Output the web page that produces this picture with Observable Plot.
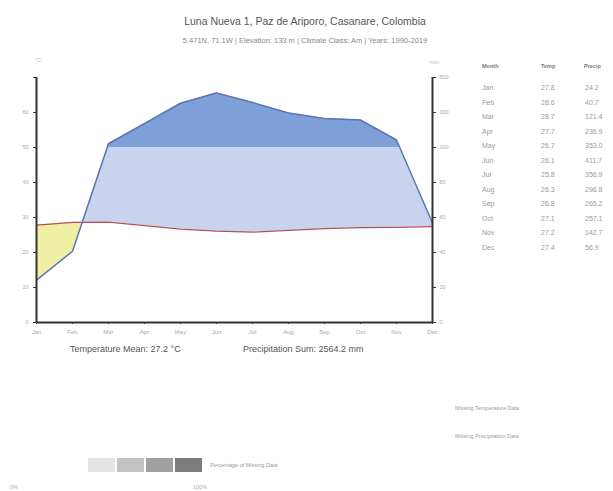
<!DOCTYPE html>
<html>
<head>
<meta charset="utf-8">
<script src="https://cdn.jsdelivr.net/npm/d3@7"></script>
<script src="https://cdn.jsdelivr.net/npm/@observablehq/plot@0.6"></script>
<style>
  html, body { margin: 0; padding: 0; background: #fff; }
  #wrap { position: relative; width: 613px; height: 491px; overflow: hidden; font-family: "Liberation Sans", Arial, sans-serif; }
  #wrap svg { position: absolute; left: 0; top: 0; }
  .t { position: absolute; white-space: nowrap; }
</style>
</head>
<body>
<div id="wrap"></div>
<script>
const months = ["Jan","Feb","Mar","Apr","May","Jun","Jul","Aug","Sep","Oct","Nov","Dec"];
const temp = [27.8, 28.6, 28.7, 27.7, 26.7, 26.1, 25.8, 26.3, 26.8, 27.1, 27.2, 27.4];
const precip = [24.2, 40.7, 121.4, 236.9, 353.0, 411.7, 356.9, 296.8, 265.2, 257.1, 142.7, 56.9];
const tempTicks = [0, 10, 20, 30, 40, 50, 60, 70];
const precipTicks = [0, 20, 40, 60, 80, 100, 300, 500];
const title = "Luna Nueva 1, Paz de Ariporo, Casanare, Colombia";
const subtitle = "5.471N, 71.1W | Elevation: 133 m | Climate Class: Am | Years: 1990-2019";
const meanText = "Temperature Mean: 27.2 °C";
const sumText = "Precipitation Sum: 2564.2 mm";

// Walter-Lieth precipitation scaling (mm -> °C units)
const pScale = p => p <= 100 ? p / 2 : 50 + (p - 100) / 20;

const monthly = months.map((m, i) => ({x: i + 1, t: temp[i], p: pScale(precip[i])}));

// insert exact crossing points so the fills are clean polygons
const series = [];
for (let i = 0; i < monthly.length; i++) {
  const a = monthly[i];
  series.push(a);
  const b = monthly[i + 1];
  if (!b) break;
  const cross = [];
  const f1 = (a.p - a.t) / ((a.p - a.t) - (b.p - b.t));
  if (f1 > 0 && f1 < 1) cross.push(f1);
  const f2 = (a.p - 50) / ((a.p - 50) - (b.p - 50));
  if (f2 > 0 && f2 < 1) cross.push(f2);
  cross.sort((u, v) => u - v).forEach(f => {
    series.push({x: a.x + f, t: a.t + f * (b.t - a.t), p: a.p + f * (b.p - a.p)});
  });
}

const W = 613, H = 491;
const chart = Plot.plot({
  width: W, height: H,
  marginLeft: 36, marginRight: 181, marginTop: 77, marginBottom: 169,
  style: {background: "transparent", fontFamily: "Liberation Sans, Arial, sans-serif"},
  x: {type: "linear", domain: [1, 12]},
  y: {type: "linear", domain: [0, 70]},
  marks: [
    Plot.areaY(series, {x: "x", y1: "t", y2: d => Math.min(d.p, d.t), fill: "#eff0a4"}),
    Plot.areaY(series, {x: "x", y1: "t", y2: d => Math.max(d.t, Math.min(d.p, 50)), fill: "#c8d4ee"}),
    Plot.areaY(series, {x: "x", y1: 50, y2: d => Math.max(50, d.p), fill: "#7f9fd8"}),
    Plot.line(monthly, {x: "x", y: "t", stroke: "#b5505a", strokeWidth: 1.2}),
    Plot.line(monthly, {x: "x", y: "p", stroke: "#5b76b0", strokeWidth: 1.5}),
    Plot.axisX({ticks: d3.range(1, 13), tickFormat: i => months[i - 1], tickSize: 2, tickPadding: 5, fontSize: 6, fill: "#aaa", stroke: "#333", label: null}),
    Plot.axisY({anchor: "left", ticks: tempTicks, tickFormat: d => d === 70 ? "" : d, tickSize: 3, tickPadding: 5, fontSize: 5.5, fill: "#aaa", stroke: "#333", label: null}),
    Plot.axisY({anchor: "right", ticks: precipTicks.map(pScale), tickFormat: (d, i) => precipTicks[i], tickSize: 3, tickPadding: 4, fontSize: 5.5, fill: "#aaa", stroke: "#333", label: null}),
    Plot.ruleX([1, 12], {stroke: "#333", strokeWidth: 2}),
    Plot.ruleY([0], {stroke: "#333", strokeWidth: 2})
  ]
});
const wrap = document.getElementById("wrap");
wrap.appendChild(chart);

function addText(txt, x, y, size, color, opts = {}) {
  const d = document.createElement("div");
  d.className = "t";
  d.textContent = txt;
  d.style.left = x + "px";
  d.style.top = y + "px";
  d.style.fontSize = size + "px";
  d.style.color = color;
  d.style.lineHeight = "1";
  if (opts.center) d.style.transform = "translateX(-50%)";
  if (opts.weight) d.style.fontWeight = opts.weight;
  wrap.appendChild(d);
  return d;
}

addText(title, 305, 16, 10.5, "#555", {center: true});
addText(subtitle, 305, 37, 7.5, "#888", {center: true});
addText("°C", 35, 58, 5.5, "#bbb");
addText("mm", 430, 60, 5.5, "#bbb");

// table
addText("Month", 482, 64, 5.5, "#777", {weight: "bold"});
addText("Temp", 541, 64, 5.5, "#777", {weight: "bold"});
addText("Precip", 584, 64, 5.5, "#777", {weight: "bold"});
months.forEach((m, i) => {
  const y = 84 + i * 14.5;
  addText(m, 482, y, 7, "#999");
  addText(temp[i].toFixed(1), 541, y, 7, "#999");
  addText(precip[i].toFixed(1), 585, y, 7, "#999");
});

addText(meanText, 70, 345, 9, "#555");
addText(sumText, 243, 345, 9, "#555");

addText("Missing Temperature Data", 455, 406, 5.5, "#999");
addText("Missing Precipitation Data", 455, 434, 5.5, "#999");

const boxColors = ["#e4e4e4", "#c2c2c2", "#a0a0a0", "#7c7c7c"];
boxColors.forEach((c, i) => {
  const b = document.createElement("div");
  b.style.position = "absolute";
  b.style.left = (88 + i * 29) + "px";
  b.style.top = "458px";
  b.style.width = "27px";
  b.style.height = "14px";
  b.style.background = c;
  wrap.appendChild(b);
});
addText("Percentage of Missing Data", 210, 463, 5.5, "#999");
addText("0%", 10, 485, 5.5, "#aaa");
addText("100%", 193, 485, 5.5, "#aaa");
</script>
</body>
</html>
